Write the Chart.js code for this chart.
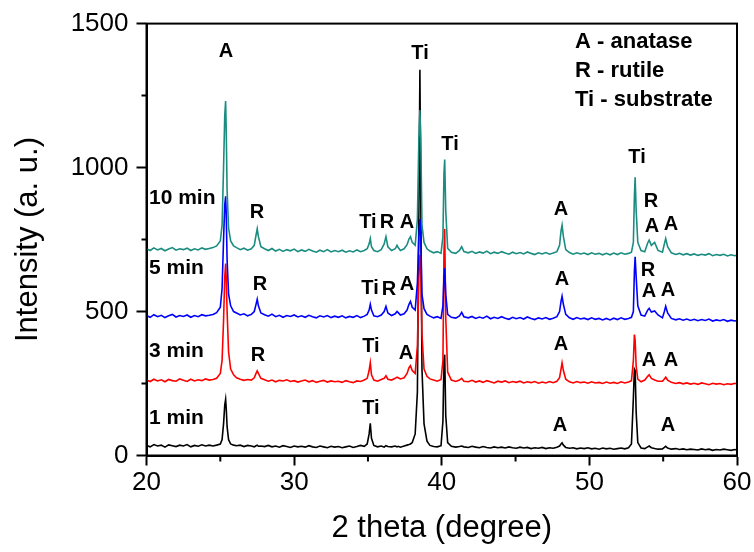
<!DOCTYPE html>
<html>
<head>
<meta charset="utf-8">
<script src="https://cdn.jsdelivr.net/npm/chart.js@4.4.0/dist/chart.umd.min.js"></script>
<style>
  html, body { margin: 0; padding: 0; background: #fff; }
  canvas { display: block; }
</style>
</head>
<body>
<canvas id="xrd" width="754" height="552"></canvas>
<script>
// 2 theta grid (degree), shared by all four patterns
const twoTheta = [
  20.0, 20.25, 20.5, 20.75, 21.0, 21.25, 21.5, 21.75, 22.0, 22.25,
  22.5, 22.75, 23.0, 23.25, 23.5, 23.75, 24.0, 24.25, 24.5, 24.75,
  25.0, 25.12, 25.22, 25.3, 25.36, 25.4, 25.46, 25.56, 25.7, 25.9,
  26.1, 26.35, 26.6, 26.85, 27.1, 27.3, 27.42, 27.5, 27.58, 27.75,
  28.0, 28.25, 28.5, 28.75, 29.0, 29.25, 29.5, 29.75, 30.0, 30.25,
  30.5, 30.75, 31.0, 31.25, 31.5, 31.75, 32.0, 32.25, 32.5, 32.75,
  33.0, 33.25, 33.5, 33.75, 34.0, 34.25, 34.5, 34.75, 34.95, 35.08,
  35.16, 35.24, 35.4, 35.65, 35.9, 36.1, 36.22, 36.35, 36.6, 36.85,
  36.97, 37.05, 37.2, 37.45, 37.65, 37.78, 37.88, 38.0, 38.2, 38.35,
  38.45, 38.52, 38.58, 38.66, 38.8, 39.0, 39.2, 39.45, 39.7, 39.95,
  40.08, 40.15, 40.2, 40.27, 40.4, 40.65, 40.95, 41.2, 41.35, 41.5,
  41.8, 42.05, 42.3, 42.55, 42.8, 43.05, 43.3, 43.55, 43.8, 44.05,
  44.3, 44.55, 44.8, 45.05, 45.3, 45.55, 45.8, 46.05, 46.3, 46.55,
  46.8, 47.05, 47.3, 47.55, 47.8, 47.98, 48.08, 48.15, 48.24, 48.4,
  48.65, 48.9, 49.15, 49.4, 49.65, 49.9, 50.15, 50.4, 50.65, 50.9,
  51.15, 51.4, 51.65, 51.9, 52.15, 52.4, 52.65, 52.85, 52.98, 53.05,
  53.1, 53.17, 53.28, 53.5, 53.75, 53.95, 54.05, 54.2, 54.42, 54.65,
  54.95, 55.08, 55.17, 55.3, 55.55, 55.85, 56.1, 56.35, 56.6, 56.85,
  57.1, 57.35, 57.6, 57.85, 58.1, 58.35, 58.6, 58.85, 59.1, 59.35,
  59.6, 59.85, 60.0
];

const int1min = [
  35, 30, 38, 33, 36, 29, 37, 34, 31, 36,
  33, 38, 30, 35, 32, 37, 33, 36, 33, 36,
  40, 55, 110, 175, 195, 165, 100, 55, 40, 36,
  34, 36, 31, 35, 33, 30, 34, 36, 32, 33,
  31, 35, 30, 33, 29, 34, 31, 28, 33, 30,
  32, 29, 34, 30, 28, 33, 30, 27, 32, 29,
  31, 27, 30, 33, 28, 31, 35, 32, 40, 75,
  112, 60, 35, 30, 33, 29, 34, 31, 30, 33,
  30, 32, 29, 33, 36, 38, 40, 45, 75, 220,
  850, 1340, 880, 300, 110, 50, 35, 31, 30, 34,
  120, 330, 350, 140, 45, 32, 29, 31, 33, 30,
  28, 32, 29, 27, 31, 28, 26, 30, 27, 29,
  26, 30, 27, 25, 29, 26, 28, 24, 27, 25,
  28, 24, 27, 25, 29, 33, 40, 44, 36, 28,
  25, 27, 23, 26, 24, 27, 23, 25, 22, 26,
  23, 25, 22, 24, 26, 23, 27, 40, 200, 300,
  295, 150, 45, 26, 24, 30, 33, 27, 24, 22,
  23, 28, 32, 26, 22, 24, 21, 23, 20, 22,
  21, 19, 23, 20, 22, 18, 21, 19, 22, 20,
  18, 21, 19
];

const int3min = [
  262, 257, 265, 259, 263, 256, 264, 260, 258, 266,
  261, 257, 265, 259, 263, 260, 266, 262, 264, 268,
  285, 330, 470, 620, 667, 620, 500, 360, 300, 280,
  270, 265, 261, 264, 262, 270, 285, 294, 285, 268,
  263, 258, 262, 256, 261, 259, 263, 257, 260, 255,
  259, 262, 256, 260, 254, 258, 261, 255, 259, 256,
  258, 254, 260, 256, 253, 259, 257, 262, 268, 295,
  322, 280, 262, 258, 264, 268, 277, 265, 262, 268,
  272, 270, 266, 270, 285, 305, 312, 295, 285, 380,
  620, 697, 640, 420, 300, 275, 266, 262, 258, 264,
  330, 700, 787, 480, 290, 262, 257, 262, 268, 258,
  256, 261, 255, 259, 254, 260, 256, 252, 258, 255,
  259, 253, 257, 254, 258, 252, 256, 253, 257, 251,
  255, 252, 257, 253, 258, 270, 300, 322, 295, 265,
  256, 252, 257, 253, 255, 251, 256, 252, 254, 250,
  255, 251, 254, 250, 256, 252, 255, 260, 330, 420,
  400, 310, 265, 256, 262, 275, 280, 268, 262, 258,
  258, 266, 272, 262, 254, 250, 253, 249, 252, 248,
  251, 247, 252, 249, 246, 251, 248, 250, 246, 249,
  247, 251, 248
];

const int5min = [
  486, 480, 489, 482, 487, 479, 485, 490, 481, 486,
  483, 488, 480, 486, 482, 489, 485, 487, 490, 496,
  515, 580, 750, 870, 900, 840, 680, 560, 520, 500,
  495, 488, 492, 485, 490, 500, 525, 543, 520, 495,
  489, 484, 491, 482, 487, 480, 486, 483, 488, 481,
  485, 480, 487, 482, 478, 485, 481, 486, 479, 484,
  480, 485, 478, 483, 480, 486, 479, 484, 490, 505,
  525, 505, 485, 482, 488, 500, 518, 495, 486, 492,
  500, 496, 488, 492, 505, 525, 535, 515, 505, 600,
  760, 821, 760, 560, 510, 490, 484, 478, 482, 476,
  520, 620, 650, 560, 490, 480, 477, 485, 497, 482,
  478, 483, 476, 481, 477, 484, 475, 480, 476, 482,
  477, 473, 480, 475, 479, 474, 481, 476, 472, 478,
  474, 479, 473, 477, 482, 500, 535, 553, 525, 490,
  478, 473, 479, 474, 477, 472, 478, 473, 476, 471,
  476, 471, 477, 472, 478, 473, 476, 480, 500, 640,
  690, 620, 520, 488, 484, 505, 511, 498, 502, 488,
  478, 500, 518, 495, 476, 471, 475, 470, 474, 469,
  473, 468, 472, 469, 474, 467, 471, 468, 472, 466,
  470, 467, 469
];

const int10min = [
  718, 712, 721, 714, 719, 711, 717, 722, 713, 718,
  715, 720, 712, 718, 714, 721, 716, 719, 722, 728,
  745, 800, 1000, 1180, 1231, 1130, 920, 790, 745, 728,
  722, 715, 720, 713, 718, 730, 765, 787, 760, 725,
  718, 712, 719, 710, 716, 709, 715, 711, 717, 708,
  714, 709, 716, 710, 706, 713, 708, 715, 707, 712,
  708, 713, 706, 711, 707, 714, 708, 712, 718, 735,
  753, 725, 712, 708, 715, 735, 760, 725, 712, 718,
  730, 722, 712, 718, 732, 752, 760, 740, 730, 820,
  1100, 1200, 1100, 800, 740, 718, 710, 704, 708, 702,
  760, 980, 1028, 850, 720, 706, 702, 712, 725, 708,
  704, 709, 702, 707, 703, 710, 701, 706, 702, 708,
  703, 699, 706, 701, 705, 700, 707, 702, 698, 704,
  700, 705, 699, 703, 708, 730, 780, 800, 760, 715,
  705, 699, 704, 700, 703, 698, 704, 699, 702, 697,
  702, 697, 703, 698, 704, 699, 702, 706, 740, 900,
  966, 850, 740, 712, 708, 738, 748, 730, 740, 712,
  706, 735, 753, 725, 704, 698, 702, 697, 701, 696,
  700, 695, 699, 696, 701, 694, 698, 695, 699, 693,
  697, 694, 696
];

const xMinorTicks = [25, 35, 45, 55];
const yMinorTicks = [250, 750, 1250];

// peak labels: [text, 2theta, intensity]
const peakLabels = [
  ['A', 25.39, 1404],
  ['R', 27.49, 845], ['R', 27.69, 594], ['R', 27.55, 346],
  ['Ti', 35.0, 811], ['R', 36.29, 811], ['A', 37.65, 811],
  ['Ti', 35.14, 580], ['R', 36.43, 577], ['A', 37.65, 594],
  ['Ti', 35.2, 380], ['A', 37.58, 356],
  ['Ti', 35.2, 164],
  ['Ti', 38.53, 1397],
  ['Ti', 40.56, 1080],
  ['A', 48.08, 856], ['A', 48.15, 611], ['A', 48.08, 387], ['A', 48.0, 105],
  ['Ti', 53.23, 1035],
  ['R', 54.17, 883], ['A', 54.24, 797], ['A', 55.53, 804],
  ['R', 53.97, 642], ['A', 54.04, 570], ['A', 55.33, 573],
  ['A', 54.04, 329], ['A', 55.53, 329],
  ['A', 55.33, 105]
];
const timeLabels = [
  ['10 min', 20.17, 894], ['5 min', 20.17, 649], ['3 min', 20.17, 363], ['1 min', 20.17, 129]
];
const keyLabels = [
  ['A - anatase', 49.03, 1435], ['R - rutile', 49.03, 1335], ['Ti - substrate', 49.03, 1235]
];

const FONT = '"Liberation Sans", Arial, Helvetica, sans-serif';

function toPoints(ys) {
  return twoTheta.map((x, i) => ({ x: x, y: ys[i] }));
}

const textPlugin = {
  id: 'xrdText',
  afterDatasetsDraw(chart) {
    const ctx = chart.ctx;
    const xs = chart.scales.x, ys = chart.scales.y;
    ctx.save();
    ctx.fillStyle = '#000';
    ctx.textBaseline = 'middle';
    ctx.textAlign = 'center';
    ctx.font = 'bold 20px ' + FONT;
    peakLabels.forEach(l => ctx.fillText(l[0], xs.getPixelForValue(l[1]), ys.getPixelForValue(l[2])));
    ctx.textAlign = 'left';
    ctx.font = 'bold 21px ' + FONT;
    timeLabels.forEach(l => ctx.fillText(l[0], xs.getPixelForValue(l[1]), ys.getPixelForValue(l[2])));
    ctx.font = 'bold 22px ' + FONT;
    keyLabels.forEach(l => ctx.fillText(l[0], xs.getPixelForValue(l[1]), ys.getPixelForValue(l[2])));
    ctx.restore();
  },
  afterDraw(chart) {
    const ctx = chart.ctx;
    const a = chart.chartArea;
    const xs = chart.scales.x, ys = chart.scales.y;
    ctx.save();
    ctx.strokeStyle = '#000';
    ctx.lineWidth = 2;
    ctx.strokeRect(a.left, a.top, a.right - a.left, a.bottom - a.top);
    ctx.beginPath();
    xMinorTicks.forEach(v => {
      const px = xs.getPixelForValue(v);
      ctx.moveTo(px, a.bottom);
      ctx.lineTo(px, a.bottom + 6);
    });
    yMinorTicks.forEach(v => {
      const py = ys.getPixelForValue(v);
      ctx.moveTo(a.left, py);
      ctx.lineTo(a.left - 5, py);
    });
    ctx.stroke();
    ctx.restore();
  }
};

new Chart(document.getElementById('xrd').getContext('2d'), {
  type: 'line',
  data: {
    datasets: [
      { label: '10 min', data: toPoints(int10min), borderColor: '#1a8c80' },
      { label: '5 min', data: toPoints(int5min), borderColor: '#0000ff' },
      { label: '3 min', data: toPoints(int3min), borderColor: '#ff0000' },
      { label: '1 min', data: toPoints(int1min), borderColor: '#000000' }
    ]
  },
  options: {
    responsive: false,
    animation: false,
    layout: { padding: { left: 0, right: 17, top: 20, bottom: 0 } },
    elements: {
      line: { borderWidth: 1.6, tension: 0, fill: false },
      point: { radius: 0 }
    },
    plugins: { legend: { display: false }, tooltip: { enabled: false } },
    scales: {
      x: {
        type: 'linear',
        min: 20, max: 60,
        afterFit: s => { s.height = 96.5; },
        ticks: { stepSize: 10, color: '#000', padding: 2, font: { family: FONT, size: 26 }, callback: v => String(v) },
        grid: { drawOnChartArea: false, drawTicks: true, tickLength: 10, tickWidth: 2, tickColor: '#000' },
        border: { display: true, color: '#000', width: 2 },
        title: { display: true, text: '2 theta (degree)', color: '#000', padding: { top: 0, bottom: 5 }, font: { family: FONT, size: 31 } }
      },
      y: {
        min: 0, max: 1500,
        afterFit: s => { s.width = 146.5; },
        ticks: { stepSize: 500, color: '#000', padding: 8, font: { family: FONT, size: 26 }, callback: v => String(v) },
        grid: { drawOnChartArea: false, drawTicks: true, tickLength: 10, tickWidth: 2, tickColor: '#000' },
        border: { display: true, color: '#000', width: 2 },
        title: { display: true, text: 'Intensity (a. u.)', color: '#000', padding: { top: 10, bottom: 0 }, font: { family: FONT, size: 31 } }
      }
    }
  },
  plugins: [textPlugin]
});
</script>
</body>
</html>
